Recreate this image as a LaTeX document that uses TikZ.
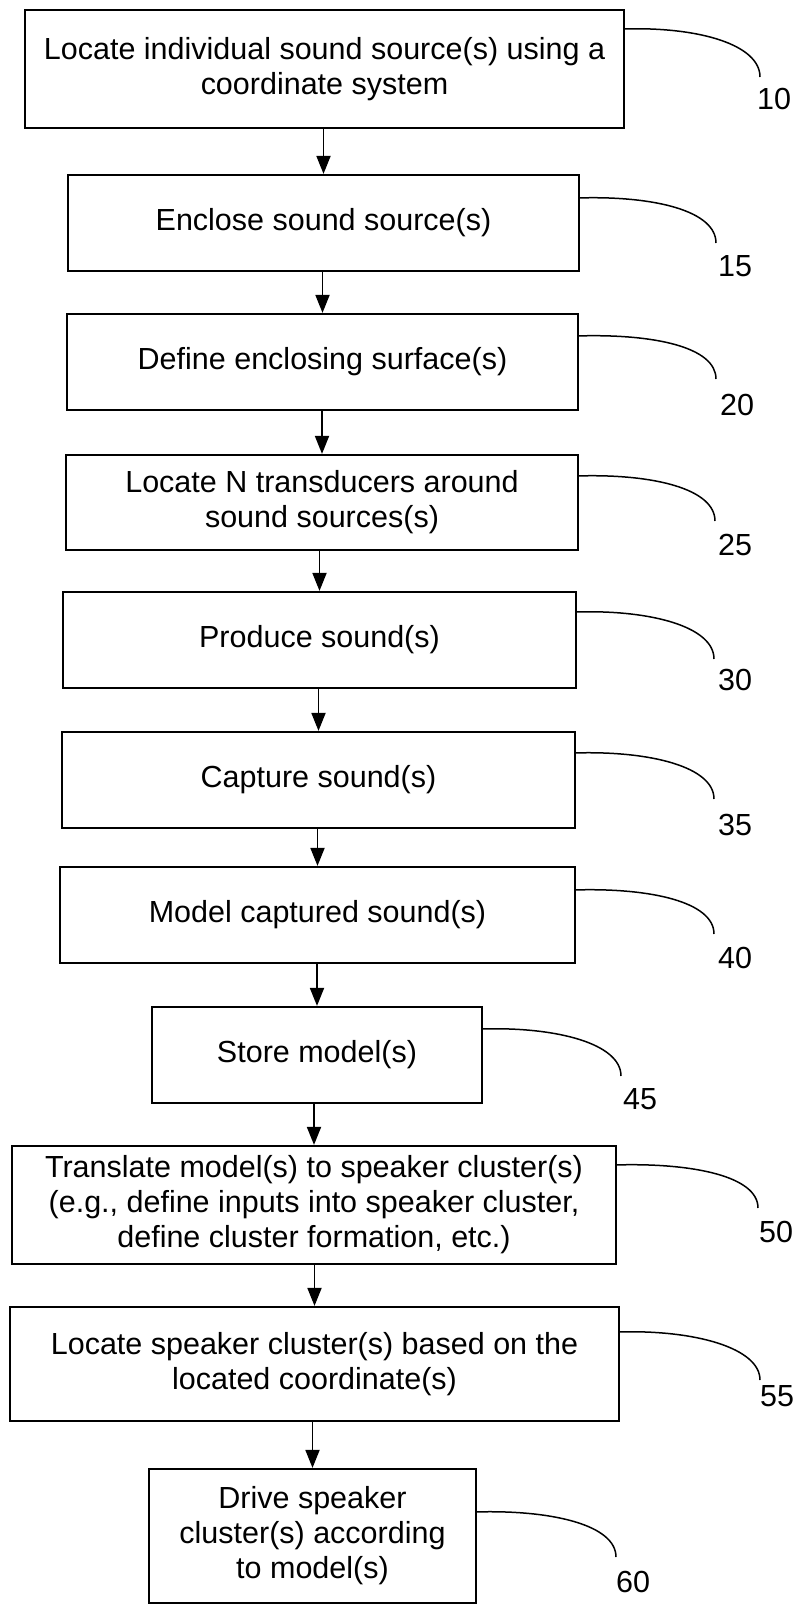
\documentclass[tikz,border=0pt]{standalone}
\usepackage{fontspec}
\setmainfont{Liberation Sans}
\usetikzlibrary{arrows.meta}
\begin{document}
\begin{tikzpicture}[x=0.5pt,y=-0.5pt,
  box/.style={draw, line width=1.1pt, inner sep=0pt, align=center, font=\fontsize{15.25}{17.5}\selectfont},
  lab/.style={inner sep=0pt, font=\fontsize{15.25}{17.5}\selectfont},
  flow/.style={line width=0.9pt, -{Triangle[length=9pt,width=7pt]}},
  callout/.style={line width=0.75pt}]
\useasboundingbox (0,0) rectangle (801,1606);

\node[box, minimum width=299.5pt, minimum height=59pt] (b1) at (324.5,69) {Locate individual sound source(s) using a\\coordinate system};
\node[box, minimum width=255.5pt, minimum height=48pt] (b2) at (323.5,223) {Enclose sound source(s)};
\node[box, minimum width=255.5pt, minimum height=48pt] (b3) at (322.5,362) {Define enclosing surface(s)};
\node[box, minimum width=256pt, minimum height=47.5pt] (b4) at (322,502.5) {Locate N transducers around\\sound sources(s)};
\node[box, minimum width=256.5pt, minimum height=48pt] (b5) at (319.5,640) {Produce sound(s)};
\node[box, minimum width=256.5pt, minimum height=48pt] (b6) at (318.5,780) {Capture sound(s)};
\node[box, minimum width=257.5pt, minimum height=48pt] (b7) at (317.5,915) {Model captured sound(s)};
\node[box, minimum width=165pt, minimum height=48pt] (b8) at (317,1055) {Store model(s)};
\node[box, minimum width=302pt, minimum height=59pt] (b9) at (314,1205) {Translate model(s) to speaker cluster(s)\\(e.g., define inputs into speaker cluster,\\define cluster formation, etc.)};
\node[box, minimum width=304.5pt, minimum height=57pt] (b10) at (314.5,1364) {Locate speaker cluster(s) based on the\\located coordinate(s)};
\node[box, minimum width=163.5pt, minimum height=67pt] (b11) at (312.5,1536) {Drive speaker\\cluster(s) according\\to model(s)};

\foreach \a/\b in {b1/b2,b2/b3,b3/b4,b4/b5,b5/b6,b6/b7,b7/b8,b8/b9,b9/b10,b10/b11}
  \draw[flow] (\b.north |- \a.south) -- (\b.north);

% label numbers
\node[lab] (l1) at (774,99) {10};
\node[lab] (l2) at (735,266) {15};
\node[lab] (l3) at (737,405) {20};
\node[lab] (l4) at (735,545) {25};
\node[lab] (l5) at (735,680) {30};
\node[lab] (l6) at (735,825) {35};
\node[lab] (l7) at (735,958) {40};
\node[lab] (l8) at (640,1099) {45};
\node[lab] (l9) at (776,1232) {50};
\node[lab] (l10) at (777,1396) {55};
\node[lab] (l11) at (633,1582) {60};

\coordinate (e1) at (760,77);
\coordinate (e2) at (716,243);
\coordinate (e3) at (716,379);
\coordinate (e4) at (715,521);
\coordinate (e5) at (714,659);
\coordinate (e6) at (714,799);
\coordinate (e7) at (714,934);
\coordinate (e8) at (621,1076);
\coordinate (e9) at (758,1208);
\coordinate (e10) at (760,1380);
\coordinate (e11) at (616,1557);

\foreach \n/\s in {1/-10pt,2/-12pt,3/-11.5pt,4/-11pt,5/-10.5pt,6/-11pt,7/-12pt,8/-11.5pt,9/-10pt,10/-13pt,11/-22pt}
  \draw[callout] ([yshift=\s]b\n.north east) .. controls +(75,-2) and +(0,-32) .. (e\n);
\end{tikzpicture}
\end{document}
